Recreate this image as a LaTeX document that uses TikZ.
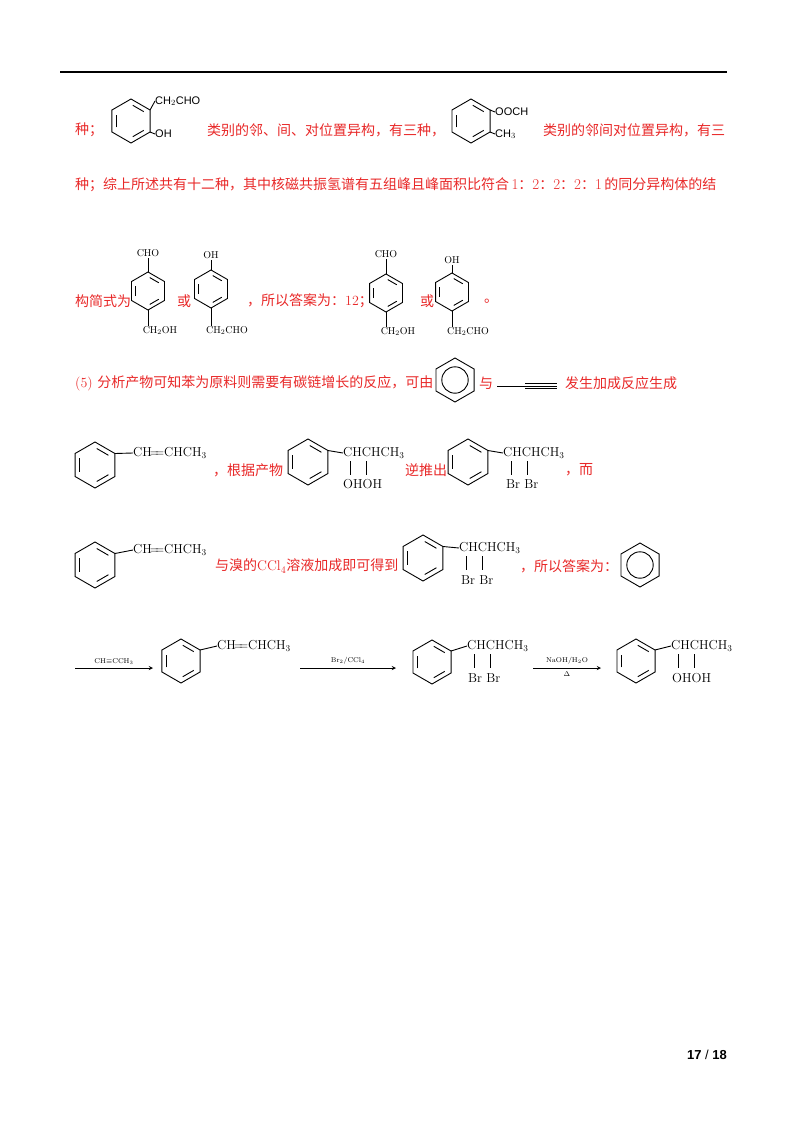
\documentclass[tikz,border=0pt]{standalone}
\usepackage{fontspec}
\newfontfamily\cjk{Noto Sans CJK SC}
\newfontfamily\hsans{Liberation Sans}
\usetikzlibrary{calc}
\definecolor{ansred}{RGB}{232,40,40}
\newcommand\Ring[4]{% name, x, y, r
 \coordinate (#1) at (#2,#3);
 \draw[bond] ($(#1)+(30:#4)$) -- ($(#1)+(90:#4)$) -- ($(#1)+(150:#4)$) -- ($(#1)+(210:#4)$) -- ($(#1)+(270:#4)$) -- ($(#1)+(330:#4)$) -- cycle;
 \foreach \a in {30,150,270}{\draw[bond,shorten <=2pt,shorten >=2pt] ($(#1)+(\a:0.76*#4)$) -- ($(#1)+(\a+60:0.76*#4)$);}
 \coordinate (#1ur) at ($(#1)+(-30:#4)$);
 \coordinate (#1lr) at ($(#1)+(30:#4)$);
 \coordinate (#1t) at ($(#1)+(-90:#4)$);
 \coordinate (#1b) at ($(#1)+(90:#4)$);
}
\newcommand\CRing[4]{%
 \coordinate (#1) at (#2,#3);
 \draw[bond] ($(#1)+(30:#4)$) -- ($(#1)+(90:#4)$) -- ($(#1)+(150:#4)$) -- ($(#1)+(210:#4)$) -- ($(#1)+(270:#4)$) -- ($(#1)+(330:#4)$) -- cycle;
 \draw[bond] (#1) circle (0.6*#4);
}
\tikzset{
 bond/.style={line width=0.9pt,black},
 cn/.style={text=ansred,anchor=west,inner sep=0pt,font=\cjk\fontsize{14}{14}\selectfont},
 fm/.style={anchor=west,inner sep=0pt,font=\fontsize{13}{13}\selectfont},
 sm/.style={anchor=west,inner sep=0pt,font=\fontsize{10}{10}\selectfont},
 hs/.style={anchor=west,inner sep=0pt,font=\hsans\fontsize{11}{11}\selectfont},
 tiny/.style={inner sep=0pt,font=\fontsize{7}{7}\selectfont},
 rx/.style={line width=0.9pt,-stealth},
}
\begin{document}
\begin{tikzpicture}[x=1pt,y=-1pt]
\useasboundingbox (0,0) rectangle (800,1132);
\draw[line width=2pt] (60,72) coordinate (l1) -- (727,72) coordinate (l2);
% row 1
\node[cn] (t1) at (75,130) {种；};
\Ring{A}{131}{121}{22}
\node[hs] (a1) at (155,101) {CH$_2$CHO};
\node[hs] (a2) at (155,134) {OH};
\draw[bond] (Aur) -- (a1.west); \draw[bond] (Alr) -- (a2.west);
\node[cn] (t2) at (207,130) {类别的邻、间、对位置异构，有三种，};
\Ring{B}{471}{121}{22}
\node[hs] (b1) at (495,112) {OOCH};
\node[hs] (b2) at (495,134) {CH$_3$};
\draw[bond] (Bur) -- (b1.west); \draw[bond] (Blr) -- (b2.west);
\node[cn] (t3) at (543,130) {类别的邻间对位置异构，有三};
% row 2
\node[cn] (t4) at (75,185) {种；综上所述共有十二种，其中核磁共振氢谱有五组峰且峰面积比符合\,{\rmfamily\fontsize{15}{15}\selectfont 1}：{\rmfamily\fontsize{15}{15}\selectfont 2}：{\rmfamily\fontsize{15}{15}\selectfont 2}：{\rmfamily\fontsize{15}{15}\selectfont 2}：{\rmfamily\fontsize{15}{15}\selectfont 1}\,的同分异构体的结};
% row 3
\node[cn] (t5) at (75,301) {构简式为};
\Ring{C}{148}{291}{19}
\node[sm,anchor=south] (c1) at (148,257) {CHO};
\node[sm,anchor=north] (c2) at (160,326) {CH$_2$OH};
\draw[bond] (Ct) -- (148,258); \draw[bond] (Cb) -- (148,326);
\node[cn] (t6) at (177,301) {或};
\Ring{D}{211}{289}{19}
\node[sm,anchor=south] (d1) at (211,259) {OH};
\node[sm,anchor=north] (d2) at (227,326) {CH$_2$CHO};
\draw[bond] (Dt) -- (211,260); \draw[bond] (Db) -- (211,326);
\node[cn] (t7) at (247,301) {，所以答案为：\rmfamily 12\cjk ；};
\Ring{E}{386}{293}{19}
\node[sm,anchor=south] (e1) at (386,258) {CHO};
\node[sm,anchor=north] (e2) at (398,327) {CH$_2$OH};
\draw[bond] (Et) -- (386,259); \draw[bond] (Eb) -- (386,327);
\node[cn] (t8) at (420,301) {或};
\Ring{F}{452}{292}{19}
\node[sm,anchor=south] (f1) at (452,264) {OH};
\node[sm,anchor=north] (f2) at (468,327) {CH$_2$CHO};
\draw[bond] (Ft) -- (452,265); \draw[bond] (Fb) -- (452,327);
\node[cn] (t9) at (484,301) {。};
% row 4
\node[cn] (t10) at (75,383) {\rmfamily (5)\ \cjk 分析产物可知苯为原料则需要有碳链增长的反应，可由};
\CRing{G}{455}{380}{22}
\node[cn] (t11) at (479,383) {与};
\coordinate (p1) at (497,386); \coordinate (p2) at (525,386); \coordinate (p3) at (557,386);
\draw[bond] (p1) -- (p3);
\draw[bond] ($(p2)+(0,-2.5)$) -- ($(p3)+(0,-2.5)$);
\draw[bond] ($(p2)+(0,2.5)$) -- ($(p3)+(0,2.5)$);
\node[cn] (t12) at (565,383) {发生加成反应生成};
% row 5
\Ring{H}{95}{465}{23}
\node[fm] (h1) at (133,453) {CH$\!=\!\!=$CHCH$_3$};
\draw[bond] (Hur) -- (h1.west);
\node[cn] (t13) at (213,470) {，根据产物};
\Ring{I}{308}{462}{23}
\node[fm] (i1) at (343,453) {CHCHCH$_3$};
\draw[bond] (Iur) -- (i1.west);
\draw[bond] (350,461) -- (350,475); \draw[bond] (366,461) -- (366,475);
\node[fm] (i2) at (343,484) {OHOH};
\node[cn] (t14) at (405,470) {逆推出};
\Ring{J}{468}{462}{23}
\node[fm] (j1) at (503,453) {CHCHCH$_3$};
\draw[bond] (Jur) -- (j1.west);
\draw[bond] (511,461) -- (511,475); \draw[bond] (527,461) -- (527,475);
\node[fm] (j2) at (506,484) {Br Br};
\node[cn] (t15) at (565,470) {，而};
% row 6
\Ring{K}{95}{565}{23}
\node[fm] (k1) at (133,550) {CH$\!=\!\!=$CHCH$_3$};
\draw[bond] (Kur) -- (k1.west);
\node[cn] (t16) at (215,566) {与溴的\rmfamily CCl$_4$\cjk 溶液加成即可得到};
\Ring{L}{423}{558}{23}
\node[fm] (l1n) at (459,548) {CHCHCH$_3$};
\draw[bond] (Lur) -- (l1n.west);
\draw[bond] (466,556) -- (466,570); \draw[bond] (482,556) -- (482,570);
\node[fm] (l2n) at (461,580) {Br Br};
\node[cn] (t17) at (520,566) {，所以答案为：};
\CRing{M}{640}{565}{22}
% row 7
\coordinate (r1a) at (75,668); \coordinate (r1b) at (153,668);
\draw[rx] (r1a) -- (r1b) node[tiny,midway,above=3pt] {CH$\equiv$CCH$_3$};
\Ring{N}{181}{661}{22}
\node[fm] (n1) at (217,646) {CH$\!=\!\!=$CHCH$_3$};
\draw[bond] (Nur) -- (n1.west);
\coordinate (r2a) at (300,668); \coordinate (r2b) at (396,668);
\draw[rx] (r2a) -- (r2b) node[tiny,midway,above=3pt] {Br$_2$/CCl$_4$};
\Ring{O}{432}{662}{22}
\node[fm] (o1) at (467,646) {CHCHCH$_3$};
\draw[bond] (Our) -- (o1.west);
\draw[bond] (474,654) -- (474,668); \draw[bond] (490,654) -- (490,668);
\node[fm] (o2) at (468,678) {Br Br};
\coordinate (r3a) at (533,668); \coordinate (r3b) at (601,668);
\draw[rx] (r3a) -- (r3b) node[tiny,midway,above=3pt] {NaOH/H$_2$O} node[tiny,midway,below=3pt] {$\Delta$};
\Ring{P}{636}{661}{22}
\node[fm] (p1n) at (671,646) {CHCHCH$_3$};
\draw[bond] (Pur) -- (p1n.west);
\draw[bond] (678,654) -- (678,668); \draw[bond] (694,654) -- (694,668);
\node[fm] (p2n) at (672,678) {OHOH};
% page number
\node[anchor=east,inner sep=0pt,font=\hsans\bfseries\fontsize{13}{13}\selectfont] (pg) at (727,1055) {17 {\mdseries/} 18};
\end{tikzpicture}
\end{document}
